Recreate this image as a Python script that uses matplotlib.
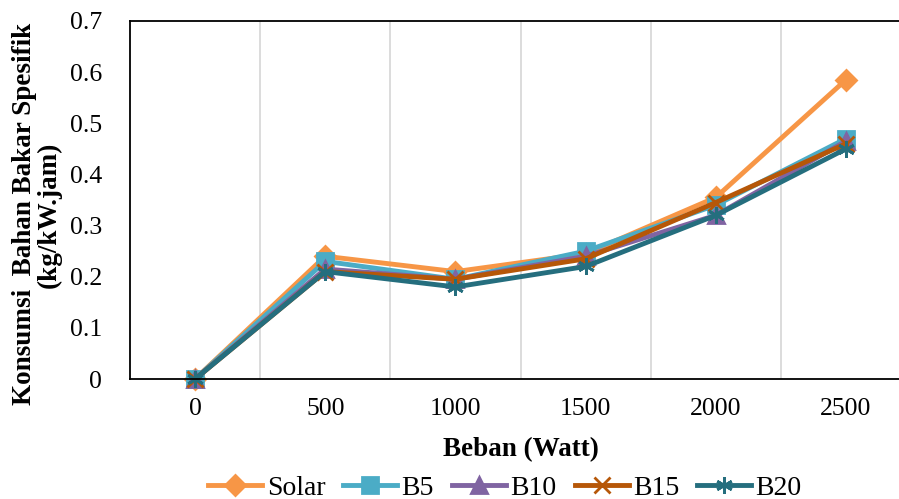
import matplotlib.pyplot as plt
import numpy as np

plt.rcParams['font.family'] = ['Liberation Serif', 'DejaVu Serif']

beban = ['0', '500', '1000', '1500', '2000', '2500']
solar = [0, 0.24, 0.21, 0.245, 0.355, 0.585]
b5 = [0, 0.23, 0.195, 0.25, 0.34, 0.47]
b10 = [0, 0.215, 0.195, 0.24, 0.32, 0.465]
b15 = [0, 0.21, 0.195, 0.235, 0.345, 0.46]
b20 = [0, 0.21, 0.18, 0.22, 0.32, 0.45]

series = [
    ('Solar', solar, '#F79646', 'D', 10),
    ('B5', b5, '#4BACC6', 's', 11),
    ('B10', b10, '#8064A2', '^', 11),
    ('B15', b15, '#B65708', 'x', 12),
    ('B20', b20, '#256E7E', (6, 2, 0), 12),
]

fig = plt.figure(figsize=(8.99, 4.99), dpi=100)
ax = fig.add_axes([130 / 899, 1 - 379 / 499, 781 / 899, 358 / 499])

x = np.arange(len(beban))
for name, vals, color, marker, ms in series:
    ax.plot(x, vals, color=color, lw=3.5, marker=marker, ms=ms, mew=2,
            label=name, clip_on=False)

ax.set_xlim(-0.5, 5.5)
ax.set_ylim(0, 0.7)
ax.set_xticks(x)
ax.set_xticklabels(beban)
ax.set_yticks(np.arange(0, 0.71, 0.1))
ax.set_yticklabels(['0', '0.1', '0.2', '0.3', '0.4', '0.5', '0.6', '0.7'])
ax.set_xticks(np.arange(0.5, 5.5, 1), minor=True)
ax.grid(True, which='minor', axis='x', color='#D9D9D9', lw=1.3)
ax.tick_params(which='both', length=0, labelsize=18.5)
ax.tick_params(axis='x', pad=14)
ax.tick_params(axis='y', pad=20)
for s in ax.spines.values():
    s.set_color('black')
    s.set_linewidth(1.3)

ax.set_xlabel('Beban (Watt)', fontsize=19.5, fontweight='bold', labelpad=12)
ax.set_ylabel('Konsumsi  Bahan Bakar Spesifik\n(kg/kW.jam)', fontsize=19.5,
              fontweight='bold', linespacing=1.0)
ax.yaxis.set_label_coords(-0.087, 0.46)

fig.legend(loc='center', bbox_to_anchor=(505 / 899, 1 - 488 / 499), ncol=5,
           frameon=False, fontsize=20, handlelength=1.95, handletextpad=0.15,
           columnspacing=0.65, borderpad=0)

fig.savefig('out.png', dpi=100)
